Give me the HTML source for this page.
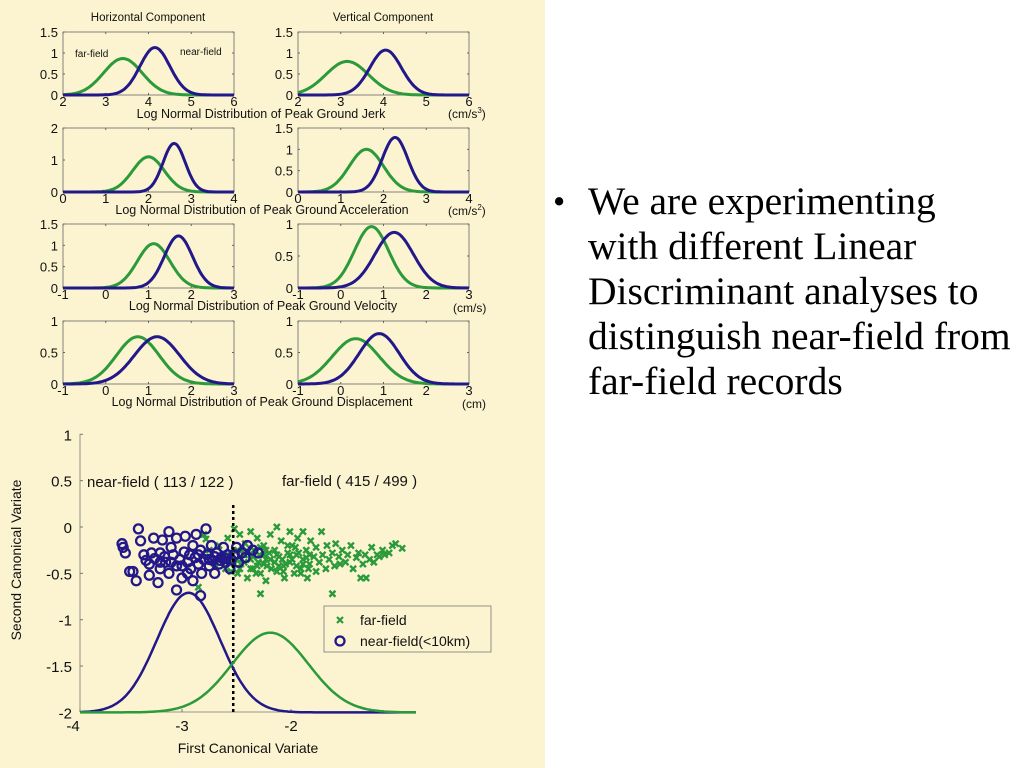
<!DOCTYPE html>
<html><head><meta charset="utf-8"><style>
body{margin:0;width:1024px;height:768px;background:#fff;overflow:hidden;position:relative;font-family:"Liberation Sans",sans-serif}
#panel{position:absolute;left:0;top:0;width:545px;height:768px;background:#fcf4d0}
#txt{position:absolute;left:553px;top:179px;font-family:"Liberation Serif",serif;font-size:39.5px;line-height:45px;color:#000}
#txt .b{position:absolute;left:0;top:0;font-size:35px}
#txt .t{position:absolute;left:35px;top:0;width:470px;white-space:nowrap}
svg{position:absolute;left:0;top:0}
</style></head><body>
<div id="panel"></div>
<svg id="s" width="545" height="768"></svg>
<div id="txt"><span class="b">•</span><div class="t">We are experimenting<br>with different Linear<br>Discriminant analyses to<br>distinguish near-field from<br>far-field records</div></div>
<script>
// small panels: [mean, amplitude, sigma] for far (green) and near (blue)
const panelNames=['jerk-h','jerk-v','acc-h','acc-v','vel-h','vel-v','disp-h','disp-v'];
const farParams=[[3.4,0.87,0.45],[3.15,0.8,0.5],[2.0,1.1,0.37],[1.6,1.0,0.4],[1.12,1.04,0.38],[0.72,0.96,0.4],[0.75,0.75,0.5],[0.35,0.72,0.55]];
const nearParams=[[4.15,1.13,0.35],[4.05,1.07,0.37],[2.6,1.52,0.26],[2.27,1.28,0.3],[1.7,1.22,0.33],[1.25,0.87,0.45],[1.2,0.75,0.53],[0.9,0.8,0.47]];
const xLims=[[2,6],[2,6],[0,4],[0,4],[-1,3],[-1,3],[-1,3],[-1,3]];
const yMaxes=[1.5,1.5,2,1.5,1.5,1,1,1];
const yTickSets=[[0,0.5,1,1.5],[0,0.5,1,1.5],[0,1,2],[0,0.5,1,1.5],[0,0.5,1,1.5],[0,0.5,1],[0,0.5,1],[0,0.5,1]];
// big plot data
const nearCurve=[-2.94,1.29,0.29];
const farCurve=[-2.19,0.86,0.35];
const threshold=-2.53;
const bigXTicks=[-4,-3,-2];
const bigYTicks=[1,0.5,0,-0.5,-1,-1.5,-2];
const nearPts=[[-3.55,-0.18],[-3.54,-0.22],[-3.52,-0.28],[-3.48,-0.48],[-3.45,-0.48],[-3.42,-0.58],[-3.4,-0.02],[-3.38,-0.15],[-3.35,-0.3],[-3.33,-0.36],[-3.3,-0.4],[-3.3,-0.52],[-3.28,-0.28],[-3.26,-0.12],[-3.25,-0.34],[-3.22,-0.6],[-3.2,-0.45],[-3.2,-0.28],[-3.18,-0.14],[-3.16,-0.32],[-3.15,-0.38],[-3.12,-0.5],[-3.1,-0.22],[-3.08,-0.3],[-3.05,-0.42],[-3.05,-0.12],[-3.02,-0.35],[-3.0,-0.55],[-2.98,-0.27],[-2.97,-0.1],[-2.95,-0.38],[-2.93,-0.3],[-2.92,-0.45],[-2.9,-0.2],[-2.9,-0.58],[-2.88,-0.33],[-2.87,-0.08],[-2.85,-0.4],[-2.83,-0.25],[-2.82,-0.5],[-2.8,-0.35],[-2.78,-0.02],[-2.77,-0.3],[-2.75,-0.42],[-2.73,-0.2],[-2.72,-0.36],[-2.7,-0.5],[-2.68,-0.28],[-2.66,-0.4],[-2.64,-0.33],[-2.62,-0.22],[-2.6,-0.38],[-2.58,-0.3],[-2.56,-0.45],[-2.55,-0.35],[-2.52,-0.3],[-2.5,-0.22],[-2.48,-0.38],[-2.45,-0.28],[-2.42,-0.33],[-2.4,-0.2],[-2.35,-0.25],[-2.3,-0.28],[-3.05,-0.68],[-2.83,-0.74],[-3.12,-0.05],[-3.0,-0.42],[-2.95,-0.5],[-2.85,-0.3],[-2.75,-0.35],[-2.7,-0.32],[-2.65,-0.36],[-2.6,-0.34],[-3.1,-0.38],[-3.2,-0.38]];
const farPts=[[-2.85,-0.65],[-2.8,-0.08],[-2.78,-0.13],[-2.75,-0.25],[-2.7,-0.4],[-2.66,-0.2],[-2.62,-0.3],[-2.6,-0.45],[-2.58,-0.12],[-2.55,-0.35],[-2.52,-0.02],[-2.49,-0.25],[-2.49,-0.5],[-2.47,-0.08],[-2.46,-0.4],[-2.43,-0.3],[-2.42,-0.18],[-2.40,-0.55],[-2.37,-0.35],[-2.37,-0.05],[-2.35,-0.45],[-2.34,-0.25],[-2.31,-0.12],[-2.30,-0.38],[-2.28,-0.5],[-2.25,-0.3],[-2.25,-0.2],[-2.23,-0.58],[-2.22,-0.42],[-2.19,-0.08],[-2.19,-0.35],[-2.28,-0.72],[-2.15,-0.25],[-2.13,-0.48],[-2.13,0.0],[-2.11,-0.32],[-2.09,-0.15],[-2.07,-0.42],[-2.06,-0.55],[-2.03,-0.28],[-2.01,-0.05],[-2.01,-0.38],[-1.99,-0.2],[-1.97,-0.5],[-1.95,-0.3],[-1.94,-0.12],[-1.91,-0.45],[-1.89,-0.35],[-1.89,-0.05],[-1.86,-0.25],[-1.85,-0.55],[-1.83,-0.4],[-1.82,-0.15],[-1.79,-0.32],[-1.77,-0.48],[-1.77,-0.22],[-1.74,-0.38],[-1.72,-0.05],[-1.71,-0.3],[-1.68,-0.45],[-1.67,-0.2],[-1.65,-0.35],[-1.62,-0.28],[-1.60,-0.42],[-1.59,-0.18],[-1.56,-0.32],[-1.55,-0.4],[-1.53,-0.25],[-1.50,-0.38],[-1.48,-0.3],[-1.62,-0.72],[-1.45,-0.2],[-1.43,-0.45],[-1.40,-0.33],[-1.38,-0.28],[-1.36,-0.55],[-1.34,-0.4],[-1.32,-0.3],[-1.31,-0.55],[-1.28,-0.35],[-1.26,-0.22],[-1.24,-0.38],[-1.21,-0.3],[-1.19,-0.32],[-1.16,-0.25],[-1.14,-0.3],[-1.10,-0.28],[-1.07,-0.2],[-1.04,-0.18],[-0.98,-0.23],[-2.43,-0.38],[-2.40,-0.28],[-2.35,-0.32],[-2.31,-0.42],[-2.29,-0.3],[-2.25,-0.4],[-2.23,-0.35],[-2.20,-0.28],[-2.15,-0.38],[-2.13,-0.3],[-2.11,-0.42],[-2.08,-0.35],[-2.05,-0.4],[-2.01,-0.3],[-1.99,-0.35],[-1.95,-0.42],[-1.93,-0.28],[-1.89,-0.4],[-1.86,-0.33],[-1.83,-0.3],[-2.37,-0.45],[-2.32,-0.5],[-2.28,-0.22],[-2.23,-0.25],[-2.18,-0.45],[-2.07,-0.48],[-2.03,-0.2],[-1.96,-0.22],[-1.91,-0.5],[-1.84,-0.45],[-2.49,-0.35],[-2.47,-0.45],[-2.52,-0.4],[-2.55,-0.3],[-2.6,-0.38],[-2.65,-0.35],[-2.55,-0.48],[-2.45,-0.25]];

const NS='http://www.w3.org/2000/svg';
const svg=document.getElementById('s');
function mk(tag,attrs,parent){const e=document.createElementNS(NS,tag);for(const k in attrs)e.setAttribute(k,attrs[k]);(parent||svg).appendChild(e);return e;}
function txt(x,y,s,size,anchor,parent){const t=mk('text',{x:x,y:y,'font-size':size,'text-anchor':anchor||'middle',fill:'#111','font-family':'Liberation Sans, sans-serif'},parent);t.textContent=s;return t;}
const GREEN='#2a9a3a',BLUE='#22188a';
const colX=[63,298],rowY=[[32,95],[128,192],[224,288],[321,384]];
for(let i=0;i<8;i++){
  const col=i%2,row=Math.floor(i/2);
  const x0=colX[col],x1=x0+171,y0=rowY[row][0],y1=rowY[row][1];
  const g=mk('g',{});
  
  
  const xl=xLims[i],ym=yMaxes[i];
  const sx=v=>x0+(v-xl[0])/(xl[1]-xl[0])*(x1-x0);
  const sy=v=>y1-v/ym*(y1-y0);
  mk('rect',{x:x0,y:y0,width:x1-x0,height:y1-y0,fill:'none',stroke:'#666','stroke-width':0.8},g);
  for(let v=xl[0];v<=xl[1];v++){mk('line',{x1:sx(v),x2:sx(v),y1:y1,y2:y1-2,stroke:'#666'},g);mk('line',{x1:sx(v),x2:sx(v),y1:y0,y2:y0+2,stroke:'#666'},g);
    txt(sx(v),y1+11,String(v),13,'middle',g);}
  yTickSets[i].forEach(v=>{mk('line',{x1:x0,x2:x0+2,y1:sy(v),y2:sy(v),stroke:'#666'},g);mk('line',{x1:x1,x2:x1-2,y1:sy(v),y2:sy(v),stroke:'#666'},g);
    txt(x0-5,sy(v)+5,String(v),13,'end',g);});
  [[farParams[i],GREEN,'far'],[nearParams[i],BLUE,'near']].forEach(([p,c,n])=>{
    let d='';for(let k=0;k<=120;k++){const v=xl[0]+(xl[1]-xl[0])*k/120;const yv=p[1]*Math.exp(-((v-p[0])**2)/(2*p[2]*p[2]));d+=(k?'L':'M')+sx(v).toFixed(1)+','+sy(yv).toFixed(1);}
    const pa=mk('path',{d:d,fill:'none',stroke:c,'stroke-width':3},g);
    
    
  });
}
txt(148,21,'Horizontal Component',11.5);
txt(383,21,'Vertical Component',11.5);
txt(75,57,'far-field',10,'start');txt(180,55,'near-field',10,'start');
const xlabels=[['Log Normal Distribution of Peak Ground Jerk',261,118],['Log Normal Distribution of Peak Ground Acceleration',262,214],['Log Normal Distribution of Peak Ground Velocity',263,310],['Log Normal Distribution of Peak Ground Displacement',262,406]];
xlabels.forEach(l=>{const t=txt(l[1],l[2],l[0],12.5);});
const u1=txt(448,118,'(cm/s',12,'start');const s1=mk('tspan',{dy:-5,'font-size':8},u1);s1.textContent='3';const e1=mk('tspan',{dy:5},u1);e1.textContent=')';
const u2=txt(448,215,'(cm/s',12,'start');const s2=mk('tspan',{dy:-5,'font-size':8},u2);s2.textContent='2';const e2=mk('tspan',{dy:5},u2);e2.textContent=')';
txt(453,312,'(cm/s)',12,'start');txt(462,408,'(cm)',12,'start');

// big plot
const bg=mk('g',{});


const BX0=80,BX1=416,BY0=434,BY1=712;
const bx=v=>182+(v+3)*109;
const by=v=>527-v*92.7;
mk('line',{x1:BX0,x2:BX0,y1:BY0,y2:BY1,stroke:'#777','stroke-width':0.8},bg);
mk('line',{x1:BX0,x2:BX1,y1:BY1,y2:BY1,stroke:'#777','stroke-width':0.8},bg);
bigYTicks.forEach(v=>{mk('line',{x1:BX0,x2:BX0+3,y1:by(v),y2:by(v),stroke:'#777'},bg);txt(BX0-8,by(v)+6,String(v),15,'end',bg);});
bigXTicks.forEach(v=>{const X=Math.max(bx(v),BX0);mk('line',{x1:X,x2:X,y1:BY1,y2:BY1-3,stroke:'#777'},bg);txt(bx(v),BY1+19,String(v),15,'middle',bg);});
const yl=txt(0,0,'Second Canonical Variate',14,'middle',bg);yl.setAttribute('transform','translate(21,560) rotate(-90)');

const xlb=txt(248,753,'First Canonical Variate',14,'middle',bg);

txt(87,487,'near-field ( 113 / 122 )',15,'start',bg);
txt(282,486,'far-field ( 415 / 499 )',15,'start',bg);
farPts.forEach(p=>{const X=bx(p[0]),Y=by(p[1]);
  const m=mk('path',{d:`M${X-3},${Y-3}L${X+3},${Y+3}M${X-3},${Y+3}L${X+3},${Y-3}`,stroke:GREEN,'stroke-width':2.4},bg);
  
  });
nearPts.forEach(p=>{const c=mk('circle',{cx:bx(p[0]),cy:by(p[1]),r:4.5,fill:'none',stroke:BLUE,'stroke-width':2.3},bg);
  
  });
mk('line',{x1:bx(threshold),x2:bx(threshold),y1:505,y2:BY1,stroke:'#000','stroke-width':2.5,'stroke-dasharray':'3,3'},bg);
[[nearCurve,BLUE,'near'],[farCurve,GREEN,'far']].forEach(([p,c,n])=>{
  let d='';for(let k=0;k<=200;k++){const X=BX0+(BX1-BX0)*k/200;const v=(X-182)/109-3;const yv=-2+p[1]*Math.exp(-((v-p[0])**2)/(2*p[2]*p[2]));d+=(k?'L':'M')+X.toFixed(1)+','+by(yv).toFixed(1);}
  const pa=mk('path',{d:d,fill:'none',stroke:c,'stroke-width':2.5},bg);
  
  });
const lg=mk('g',{},bg);


mk('rect',{x:324,y:606,width:167,height:46,fill:'#fcf4d0',stroke:'#777','stroke-width':0.8},lg);
mk('path',{d:'M337,617L343,623M337,623L343,617',stroke:GREEN,'stroke-width':2.2},lg);
txt(360,625,'far-field',14,'start',lg);
mk('circle',{cx:340,cy:641,r:4.5,fill:'none',stroke:BLUE,'stroke-width':2.3},lg);
txt(360,646,'near-field(<10km)',14,'start',lg);
</script>
</body></html>
